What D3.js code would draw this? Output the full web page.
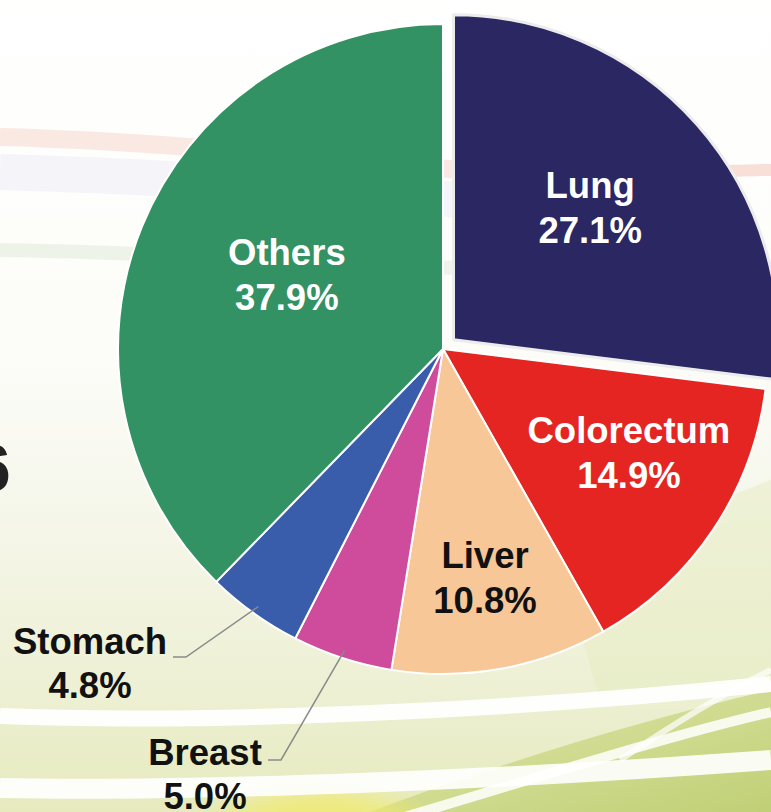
<!DOCTYPE html>
<html><head><meta charset="utf-8">
<script src="https://cdn.jsdelivr.net/npm/d3@7"></script>
<style>
html,body{margin:0;padding:0;background:#fff;}
svg{display:block;}
</style></head>
<body>
<script>
// ---- data ----
const categories = ["Lung", "Colorectum", "Liver", "Breast", "Stomach", "Others"];
const values = [27.1, 14.9, 10.8, 5.0, 4.8, 37.9];
const valueLabels = ["27.1%", "14.9%", "10.8%", "5.0%", "4.8%", "37.9%"];
const colors = ["#2a2762", "#e42522", "#f7c797", "#cf4b9b", "#395dab", "#339263"];
const textColors = ["#ffffff", "#ffffff", "#111111", "#111111", "#111111", "#ffffff"];
const exploded = ["Lung"];

// ---- layout config ----
const W = 771, H = 812;
const cx = 443, cy = 349, R = 325;
const FS = 36.5, LH = 45;
// label position inside slice (relative to the slice's own centre): radius and angle (deg, clockwise from 12 o'clock)
const labelPolar = {Lung: [190, 46], Colorectum: [213, 119.2], Liver: [233, 169.6], Others: [173, -64.5]};
const outside = {
  Stomach: {tx: 90, ty: 642, path: [[173, 657], [186, 657]]},
  Breast:  {tx: 205, ty: 753, path: [[268, 760], [281, 760]]}
};

const svg = d3.select("body").append("svg").attr("width", W).attr("height", H);
const defs = svg.append("defs");

// background
const bg = defs.append("linearGradient").attr("id", "bg").attr("x1", 0).attr("y1", 0).attr("x2", 0).attr("y2", 1);
[[0, "#ffffff"], [0.45, "#fcfcf8"], [0.65, "#f5f6e9"], [0.85, "#edf0d3"], [1, "#e6eabd"]]
  .forEach(([o, c]) => bg.append("stop").attr("offset", o).attr("stop-color", c));
svg.append("rect").attr("width", W).attr("height", H).attr("fill", "url(#bg)");

const gg = defs.append("linearGradient").attr("id", "gg").attr("x1", 0).attr("y1", 0).attr("x2", 1).attr("y2", 1);
gg.append("stop").attr("offset", 0).attr("stop-color", "#dfe6a8");
gg.append("stop").attr("offset", 1).attr("stop-color", "#bccd6e");
svg.append("path").attr("d", "M370,812 C480,770 640,720 771,690 L771,812 Z").attr("fill", "url(#gg)").attr("opacity", 0.9);
svg.append("path").attr("d", "M560,560 C640,530 720,500 771,480 L771,690 C700,700 640,690 600,700 Z").attr("fill", "#e6ecc0").attr("opacity", 0.5);

const yg = defs.append("radialGradient").attr("id", "yg").attr("cx", 0.5).attr("cy", 0.5).attr("r", 0.5);
yg.append("stop").attr("offset", 0).attr("stop-color", "#f2ea66").attr("stop-opacity", 1);
yg.append("stop").attr("offset", 0.6).attr("stop-color", "#f2ea66").attr("stop-opacity", 0.6);
yg.append("stop").attr("offset", 1).attr("stop-color", "#f2ea66").attr("stop-opacity", 0);
svg.append("ellipse").attr("cx", 320).attr("cy", 830).attr("rx", 130).attr("ry", 50).attr("fill", "url(#yg)");

// pale streaks
const streaks = svg.append("g").attr("fill", "none");
streaks.append("path").attr("d", "M0,137 C120,140 240,150 460,170").attr("stroke", "#fae8e2").attr("stroke-width", 18);
streaks.append("path").attr("d", "M0,172 C120,175 240,182 460,200").attr("stroke", "#f5f5f9").attr("stroke-width", 36);
streaks.append("path").attr("d", "M0,250 C120,252 240,258 460,268").attr("stroke", "#eef3ea").attr("stroke-width", 14);
streaks.append("path").attr("d", "M700,172 C730,171 750,170 771,170").attr("stroke", "#f8e0d8").attr("stroke-width", 12);
streaks.append("path").attr("d", "M0,716 C200,724 500,712 771,684").attr("stroke", "#ffffff").attr("stroke-width", 16).attr("opacity", 0.95);
streaks.append("path").attr("d", "M0,788 C200,792 500,780 771,760").attr("stroke", "#ffffff").attr("stroke-width", 20).attr("opacity", 0.9);
streaks.append("path").attr("d", "M360,830 C500,790 650,740 771,712").attr("stroke", "#ffffff").attr("stroke-width", 10).attr("opacity", 0.85);
streaks.append("path").attr("d", "M620,760 C680,720 730,690 771,670").attr("stroke", "#ffffff").attr("stroke-width", 6).attr("opacity", 0.7);

// partial background text at left edge
svg.append("text").attr("x", -26).attr("y", 491).attr("font-family", "Liberation Sans, Arial, sans-serif")
  .attr("font-weight", "bold").attr("font-size", 66).attr("fill", "#222").text("6");
svg.append("text").attr("x", -20).attr("y", 92).attr("font-family", "Liberation Sans, Arial, sans-serif")
  .attr("font-weight", "bold").attr("font-size", 34).attr("fill", "#222").text("?");

// pie
const data = categories.map((c, i) => ({name: c, value: values[i], label: valueLabels[i], color: colors[i], tc: textColors[i]}));
const pie = d3.pie().value(d => d.value).sort(null);
const arcs = pie(data);
const arc = d3.arc().innerRadius(0).outerRadius(R);
const explodeDist = 14;

const g = svg.append("g").attr("transform", `translate(${cx},${cy})`);
const slices = g.selectAll("g.slice").data(arcs).join("g").attr("class", "slice")
  .attr("transform", d => {
    if (!exploded.includes(d.data.name)) return null;
    const m = (d.startAngle + d.endAngle) / 2;
    return `translate(${Math.sin(m) * explodeDist},${-Math.cos(m) * explodeDist})`;
  });
slices.append("path").attr("d", arc).attr("fill", d => d.data.color)
  .attr("stroke", d => exploded.includes(d.data.name) ? "#ececec" : "#ffffff")
  .attr("stroke-width", d => exploded.includes(d.data.name) ? 3 : 2)
  .attr("stroke-linejoin", "round");

const font = "Liberation Sans, Arial, Helvetica, sans-serif";
// inside labels
slices.filter(d => labelPolar[d.data.name] !== undefined).each(function(d) {
  const [r, deg] = labelPolar[d.data.name];
  const a = deg * Math.PI / 180;
  const x = Math.sin(a) * r, y = -Math.cos(a) * r;
  const t = d3.select(this).append("text").attr("text-anchor", "middle")
    .attr("font-family", font).attr("font-weight", "bold").attr("font-size", FS).attr("fill", d.data.tc);
  t.append("tspan").attr("x", x).attr("y", y - 10).text(d.data.name);
  t.append("tspan").attr("x", x).attr("y", y - 10 + LH).text(d.data.label);
});

// outside labels with leader lines
const line = d3.line();
arcs.filter(d => outside[d.data.name]).forEach(d => {
  const o = outside[d.data.name];
  const m = (d.startAngle + d.endAngle) / 2;
  const edge = [cx + Math.sin(m) * (R - 8), cy - Math.cos(m) * (R - 8)];
  svg.append("path").attr("d", line([...o.path, edge])).attr("fill", "none")
    .attr("stroke", "#8a8a8a").attr("stroke-width", 1.5);
  const t = svg.append("text").attr("text-anchor", "middle").attr("font-family", font)
    .attr("font-weight", "bold").attr("font-size", FS).attr("fill", d.data.tc);
  t.append("tspan").attr("x", o.tx).attr("y", o.ty + 12).text(d.data.name);
  t.append("tspan").attr("x", o.tx).attr("y", o.ty + 12 + 44).text(d.data.label);
});
</script>
</body></html>
